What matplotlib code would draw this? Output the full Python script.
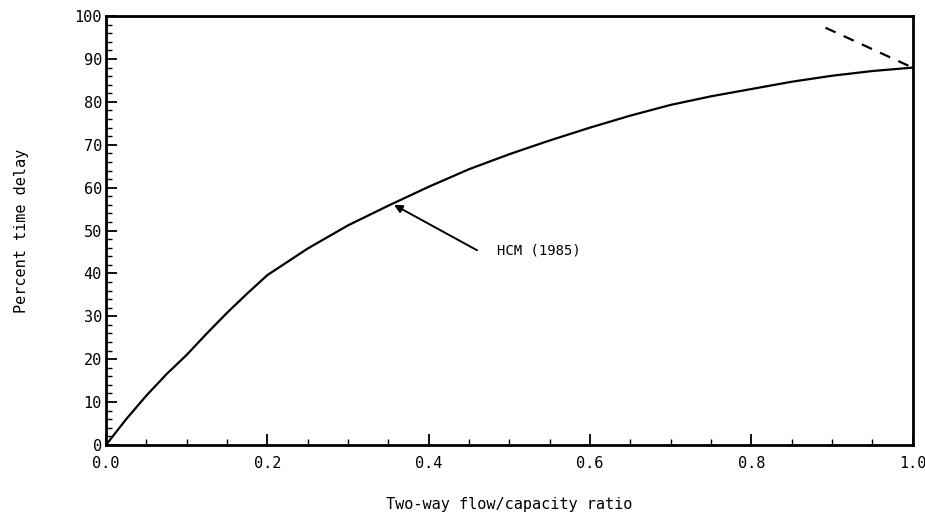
import matplotlib
matplotlib.use("Agg")
import matplotlib.pyplot as plt
from matplotlib.ticker import MultipleLocator

# HCM (1985) curve
ratio = [0.0, 0.025, 0.05, 0.075, 0.1, 0.125, 0.15, 0.175, 0.2, 0.25, 0.3,
         0.35, 0.4, 0.45, 0.5, 0.55, 0.6, 0.65, 0.7, 0.75, 0.8, 0.85,
         0.9, 0.95, 1.0]
delay = [0.0, 6.0, 11.5, 16.5, 21.0, 26.0, 30.8, 35.3, 39.6, 45.8, 51.2,
         55.8, 60.2, 64.3, 67.8, 71.0, 74.0, 76.8, 79.3, 81.3, 83.0, 84.7,
         86.1, 87.2, 88.0]

# dashed extension near capacity
dash_x = [0.892, 1.0]
dash_y = [97.3, 88.0]

plt.rcParams["font.family"] = "DejaVu Sans Mono"

fig = plt.figure(figsize=(9.25, 5.21), dpi=100)
ax = fig.add_axes([0.1146, 0.146, 0.872, 0.823])

ax.plot(ratio, delay, color="black", lw=1.6, solid_joinstyle="round")
ax.plot(dash_x, dash_y, color="black", lw=1.6, ls=(0, (5, 4)))

# label and arrow pointing at the curve
ax.annotate("", xy=(0.357, 56.0), xytext=(0.46, 45.4),
            arrowprops=dict(arrowstyle="-|>", color="black", lw=1.4,
                            shrinkA=0, shrinkB=0, mutation_scale=12))
ax.text(0.485, 45.4, "HCM (1985)", fontsize=10, va="center", ha="left")

ax.set_xlim(0, 1.0)
ax.set_ylim(0, 100)
ax.xaxis.set_major_locator(MultipleLocator(0.2))
ax.xaxis.set_minor_locator(MultipleLocator(0.05))
ax.yaxis.set_major_locator(MultipleLocator(10))
ax.yaxis.set_minor_locator(MultipleLocator(2))
ax.xaxis.set_major_formatter(plt.FuncFormatter(lambda v, p: f"{v:.1f}"))

ax.tick_params(which="both", direction="in", colors="black", labelsize=11)
ax.tick_params(which="major", length=8, width=1.3)
ax.tick_params(which="minor", length=4, width=1.0)
ax.tick_params(axis="x", pad=8)
ax.tick_params(axis="y", pad=3)

for s in ax.spines.values():
    s.set_linewidth(2)

ax.set_xlabel("Two-way flow/capacity ratio", fontsize=11, labelpad=19)
ax.set_ylabel("Percent time delay", fontsize=11, labelpad=33)

fig.savefig("out.png", dpi=100)
